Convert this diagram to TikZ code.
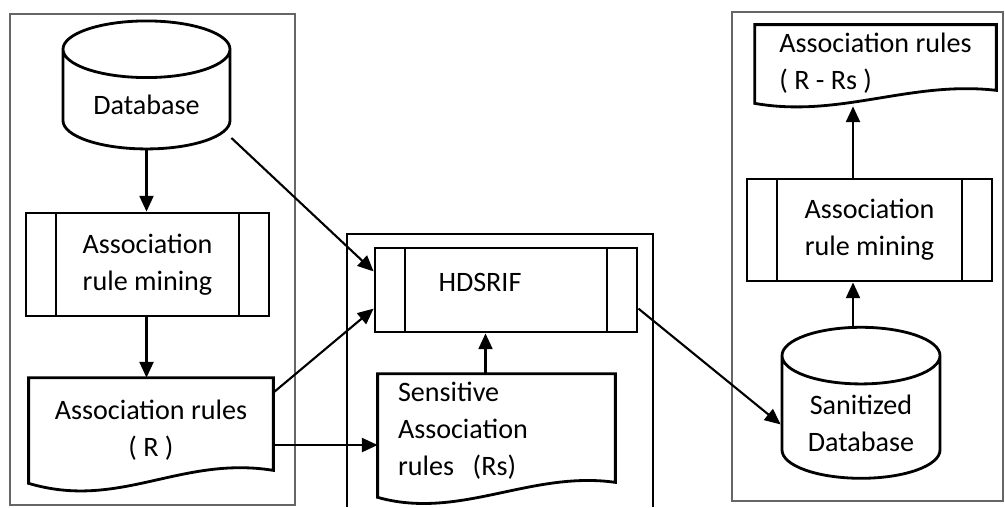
\documentclass[tikz,border=0pt]{standalone}
\usepackage{fontspec}
\setmainfont{Carlito}
\usetikzlibrary{positioning, shapes.geometric, arrows.meta, calc}

\begin{document}
\begin{tikzpicture}[x=0.2mm, y=-0.2mm,
    every node/.style={font=\fontsize{16}{21}\selectfont},
    arr/.style={-{Triangle[length=9pt, width=8pt]}, line width=1.2pt},
    frame/.style={draw=gray!80!black, line width=0.9pt},
    dbase/.style={cylinder, shape border rotate=90, draw, line width=1.6pt, aspect=0.48, align=center},
    procbox/.style={draw, line width=1.6pt, align=center,
        path picture={
            \draw[line width=1.6pt] ([xshift=6mm]path picture bounding box.north west) -- ([xshift=6mm]path picture bounding box.south west);
            \draw[line width=1.6pt] ([xshift=-6mm]path picture bounding box.north east) -- ([xshift=-6mm]path picture bounding box.south east);
        }},
    docbox/.style={inner sep=0pt, align=left}]
    \useasboundingbox (0,0) rectangle (1005,507);

    % Frames
    \draw[frame] (10,14) rectangle (295,505);
    \draw[line width=0.7pt] (347,507) -- (347,234) -- (653,234) -- (653,507);
    \draw[frame] (732,12) rectangle (1003,501);

    % Left column
    \node[dbase, minimum width=33.4mm, minimum height=25.6mm] (db) at (146.5,105) {Database};
    \node[procbox, minimum width=48.6mm, minimum height=20.6mm] (arm1) at (147.5,264.5) {Association\\rule mining};
    \node[docbox, minimum width=48.8mm, minimum height=20.8mm, align=center] (ar1) at (151,430) {Association rules\\( R )};
    \draw[line width=1.6pt] (ar1.north west) -- (ar1.north east) -- ([yshift=2.4mm]ar1.south east)
        .. controls +(-93,-15) and +(91,27) .. ([yshift=-0.2mm]ar1.south west) -- cycle;

    % Middle column
    \node[procbox, minimum width=52.4mm, minimum height=16.8mm,
        label={[xshift=-5.2mm, yshift=1.6mm]center:HDSRIF}] (hds) at (506,290) {};
    \node[docbox, text width=39.4mm, minimum height=22.8mm, inner xsep=4mm] (sens) at (496.5,431)
        {Sensitive\\Association\\rules~ (Rs)};
    \draw[line width=1.6pt] (sens.north west) -- (sens.north east) -- ([yshift=1.2mm]sens.south east)
        .. controls +(-85,-12) and +(82,23) .. ([yshift=-1.8mm]sens.south west) -- cycle;

    % Right column
    \node[docbox, minimum width=48.2mm, minimum height=15.4mm] (ar2) at (875.5,63.5)
        {Association rules\\( R - Rs )};
    \draw[line width=1.6pt] (ar2.north west) -- (ar2.north east) -- ([yshift=2.4mm]ar2.south east)
        .. controls +(-86,-10) and +(85,15) .. ([yshift=-0.2mm]ar2.south west) -- cycle;
    \node[procbox, minimum width=49mm, minimum height=20.4mm] (arm2) at (869.5,230) {Association\\rule mining};
    \node[dbase, minimum width=31.6mm, minimum height=30.2mm] (sdb) at (861,423) {Sanitized\\Database};

    % Connectors
    \draw[arr] (db.south) -- (db.south |- arm1.north);
    \draw[arr] (db.south |- arm1.south) -- (db.south |- ar1.north);
    \draw[arr] ([yshift=-6.6mm]db.east) -- (hds.172);
    \draw[arr] (ar1.17) -- (hds.188);
    \draw[arr] (ar1.-7) -- (ar1.-7 -| sens.west);
    \draw[arr] ([xshift=-2.2mm]sens.north) -- ([xshift=-2.2mm]sens.north |- hds.south);
    \draw[arr] (hds.-8) -- (sdb.181);
    \draw[arr] ([xshift=-1.6mm]sdb.north) -- ([xshift=-1.6mm]sdb.north |- arm2.south);
    \draw[arr, shorten >=0.8mm] ([xshift=-3.3mm]arm2.north) -- ([xshift=-3.3mm]arm2.north |- ar2.south);
\end{tikzpicture}
\end{document}
